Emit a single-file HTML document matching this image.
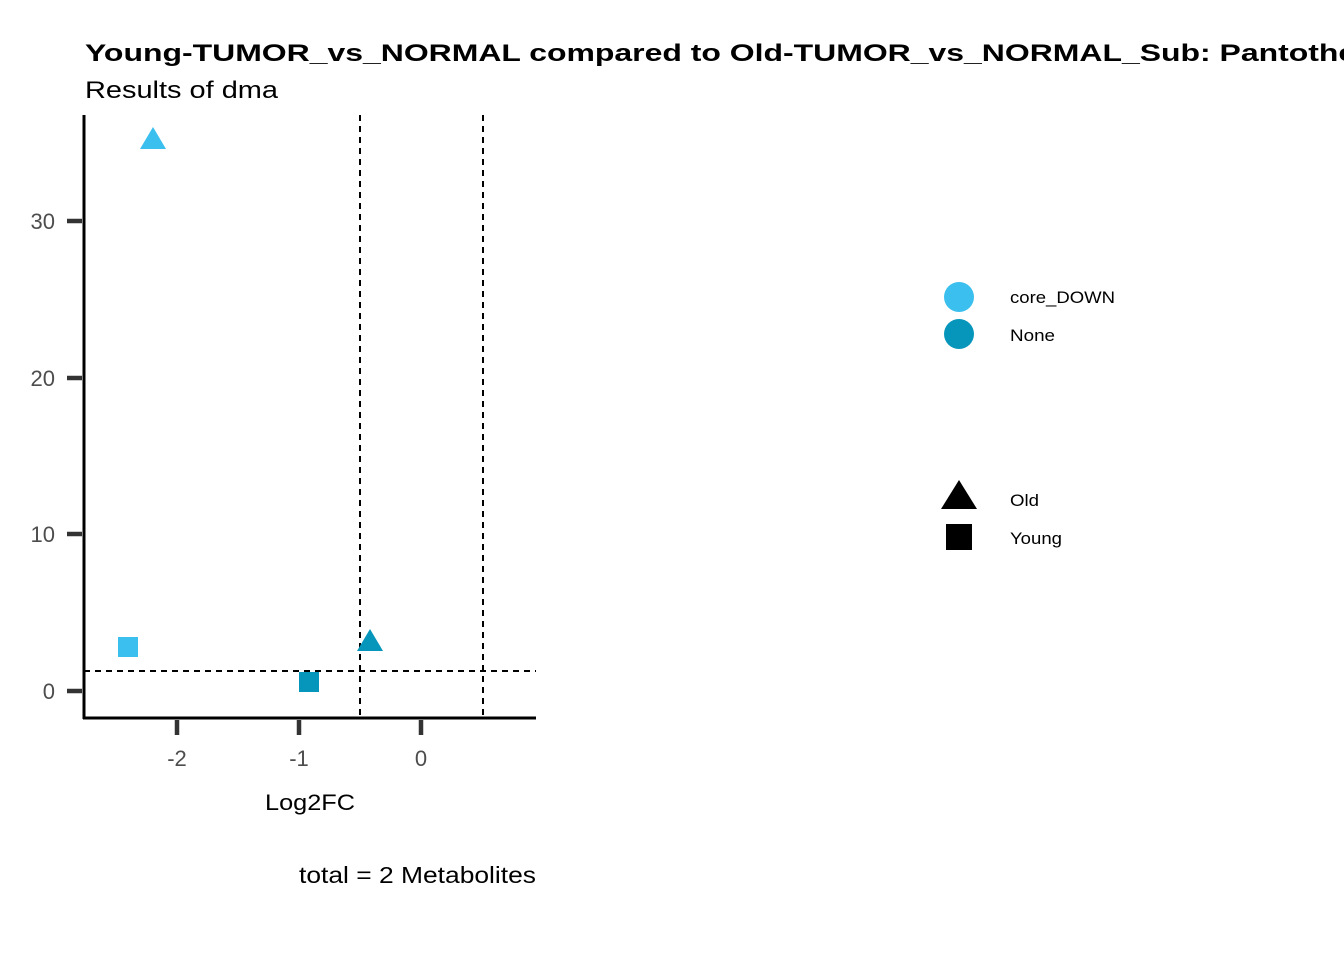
<!DOCTYPE html>
<html><head><meta charset="utf-8"><style>body{margin:0;background:#fff}</style></head>
<body>
<svg width="1344" height="960" xmlns="http://www.w3.org/2000/svg" font-family="Liberation Sans, sans-serif">
<rect width="1344" height="960" fill="#fff"/>
<text x="85" y="61" font-size="24" font-weight="bold" textLength="1680" lengthAdjust="spacingAndGlyphs">Young-TUMOR_vs_NORMAL compared to Old-TUMOR_vs_NORMAL_Sub: Pantothenate and CoA biosynthesis</text>
<text x="85" y="98" font-size="24" textLength="193" lengthAdjust="spacingAndGlyphs">Results of dma</text>
<g stroke="#000" stroke-width="2" stroke-dasharray="6,5" fill="none">
<line x1="360" y1="115" x2="360" y2="718"/>
<line x1="483" y1="115" x2="483" y2="718"/>
<line x1="84" y1="671" x2="536" y2="671"/>
</g>
<g stroke="#333" stroke-width="4.5">
<line x1="67" y1="221" x2="82" y2="221"/><line x1="67" y1="378" x2="82" y2="378"/>
<line x1="67" y1="534" x2="82" y2="534"/><line x1="67" y1="691" x2="82" y2="691"/>
<line x1="177" y1="720" x2="177" y2="735"/><line x1="299" y1="720" x2="299" y2="735"/>
<line x1="421" y1="720" x2="421" y2="735"/>
</g>
<g stroke="#000" stroke-width="3"><line x1="84" y1="115" x2="84" y2="719"/><line x1="83" y1="718" x2="536" y2="718"/></g>
<g font-size="22" fill="#4d4d4d" text-anchor="end">
<text x="55" y="229">30</text><text x="55" y="386">20</text><text x="55" y="542">10</text><text x="55" y="699">0</text>
</g>
<g font-size="22" fill="#4d4d4d" text-anchor="middle">
<text x="177" y="766">-2</text><text x="299" y="766">-1</text><text x="421" y="766">0</text>
</g>
<text x="265" y="810" font-size="22" textLength="90" lengthAdjust="spacingAndGlyphs">Log2FC</text>
<text x="299" y="883" font-size="23" textLength="237" lengthAdjust="spacingAndGlyphs">total = 2 Metabolites</text>
<polygon points="153,127 140,149 166,149" fill="#3bbfef"/>
<rect x="118" y="637" width="20" height="20" fill="#3bbfef"/>
<rect x="299" y="672" width="20" height="20" fill="#0796bb"/>
<polygon points="370,629 357,651 383,651" fill="#0796bb"/>
<circle cx="959" cy="297" r="15" fill="#3bbfef"/>
<circle cx="959" cy="334" r="15" fill="#0796bb"/>
<polygon points="959,480 941,509 977,509" fill="#000"/>
<rect x="946" y="524" width="26" height="26" fill="#000"/>
<g font-size="17">
<text x="1010" y="303" textLength="105" lengthAdjust="spacingAndGlyphs">core_DOWN</text><text x="1010" y="341" textLength="45" lengthAdjust="spacingAndGlyphs">None</text>
<text x="1010" y="506" textLength="29" lengthAdjust="spacingAndGlyphs">Old</text><text x="1010" y="544" textLength="52" lengthAdjust="spacingAndGlyphs">Young</text>
</g>
</svg>
</body></html>
